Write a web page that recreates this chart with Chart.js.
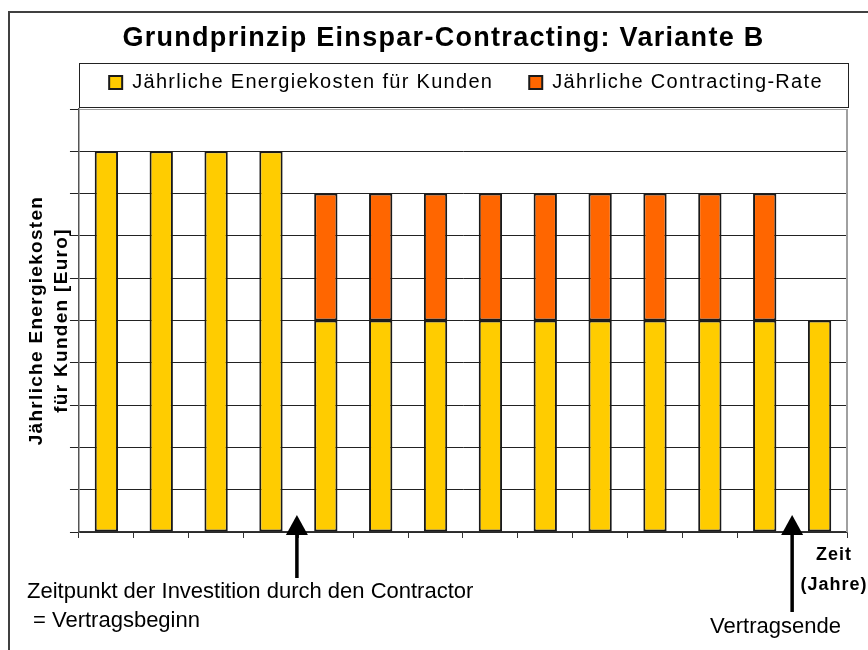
<!DOCTYPE html>
<html>
<head>
<meta charset="utf-8">
<script src="https://cdn.jsdelivr.net/npm/chart.js"></script>
<style>
  body { margin: 0; background: #fff; }
  canvas { display: block; }
</style>
</head>
<body>
<canvas id="myChart" width="868" height="650"></canvas>
<script>
  // years of the contract period, values in relative cost units (no y labels in the original)
  const years = ['1', '2', '3', '4', '5', '6', '7', '8', '9', '10', '11', '12', '13', '14'];
  const energyCost = [9, 9, 9, 9, 5, 5, 5, 5, 5, 5, 5, 5, 5, 5];
  const contractingRate = [null, null, null, null, 3, 3, 3, 3, 3, 3, 3, 3, 3, null];
  const yMax = 10;

  Chart.defaults.font.family = "'Liberation Sans', Arial, sans-serif";
  Chart.defaults.color = '#000';

  // the Excel texts are drawn a bit wider than the font, so some letter spacing
  const spacing = '1.3px';

  const extras = {
    id: 'extras',
    beforeUpdate(chart) { chart.ctx.letterSpacing = spacing; },
    afterLayout(chart) {
      chart.titleBlock.left = 20;
      chart.titleBlock.right = 867;
      const lg = chart.legend;
      const h = lg.height;
      lg.left = 71;
      lg.right = 861;
      lg.top = 36.5;
      lg.bottom = 36.5 + h;
    },
    beforeDraw(chart) { chart.ctx.letterSpacing = spacing; },
    afterDraw(chart) {
      const c = chart.ctx;
      const a = chart.chartArea;
      const x = chart.scales.x;
      c.save();
      c.letterSpacing = '0px';

      // outer frame (runs past right/bottom edge)
      c.strokeStyle = '#404040';
      c.lineWidth = 2;
      c.strokeRect(9, 12, 900, 700);

      // legend box
      c.strokeStyle = '#222';
      c.lineWidth = 1;
      c.strokeRect(79.5, 63.5, 769, 44);

      // right border of plot area
      c.strokeStyle = '#a0a0a0';
      c.lineWidth = 2;
      c.beginPath();
      c.moveTo(a.right, a.top);
      c.lineTo(a.right, a.bottom);
      c.stroke();

      // arrows between the years
      const arrow = (px, yEnd) => {
        c.fillStyle = '#000';
        c.beginPath();
        c.moveTo(px, a.bottom - 17);
        c.lineTo(px + 11, a.bottom + 3);
        c.lineTo(px - 11, a.bottom + 3);
        c.closePath();
        c.fill();
        c.fillRect(px - 1.75, a.bottom + 2, 3.5, yEnd - a.bottom - 2);
      };
      arrow(x.getPixelForValue(3.5) - 1.5, 578);
      arrow(x.getPixelForValue(12.5), 612);

      c.fillStyle = '#000';
      c.textBaseline = 'alphabetic';
      c.textAlign = 'left';
      c.font = "22px 'Liberation Sans', Arial, sans-serif";
      c.fillText('Zeitpunkt der Investition durch den Contractor', 27, 598);
      c.fillText('= Vertragsbeginn', 33, 627);
      c.fillText('Vertragsende', 710, 633);

      c.textAlign = 'center';
      c.letterSpacing = '1px';
      c.font = "bold 18px 'Liberation Sans', Arial, sans-serif";
      c.fillText('Zeit', 834, 560);
      c.fillText('(Jahre)', 834, 590);
      c.restore();
    }
  };

  const ctx = document.getElementById('myChart');
  new Chart(ctx, {
    type: 'bar',
    data: {
      labels: years,
      datasets: [{
        label: 'Jährliche Energiekosten für Kunden',
        data: energyCost,
        backgroundColor: '#FFCC00'
      }, {
        label: 'Jährliche Contracting-Rate',
        data: contractingRate,
        backgroundColor: '#FF6600'
      }]
    },
    options: {
      responsive: false,
      animation: false,
      layout: {
        padding: { left: 0, right: 21, top: 12, bottom: 112 }
      },
      datasets: {
        bar: {
          borderColor: '#1a1a1a',
          borderWidth: 2,
          borderSkipped: false,
          barPercentage: 0.425,
          categoryPercentage: 1
        }
      },
      plugins: {
        title: {
          display: true,
          text: 'Grundprinzip Einspar-Contracting: Variante B',
          color: '#000',
          font: { size: 27, weight: 'bold' },
          padding: { top: 10.1, bottom: -11.5 }
        },
        legend: {
          labels: {
            color: '#000',
            font: { size: 20 },
            boxWidth: 13,
            boxHeight: 13,
            padding: 36
          }
        },
        tooltip: { enabled: false }
      },
      scales: {
        x: {
          stacked: true,
          ticks: { display: false },
          grid: { drawOnChartArea: false, tickLength: 6, color: '#333' },
          border: { color: '#333', width: 1.5 }
        },
        y: {
          stacked: true,
          min: 0,
          max: yMax,
          ticks: { display: false, stepSize: 1 },
          grid: {
            color: (c) => c.tick && c.tick.value === yMax ? '#a0a0a0' : '#222',
            tickColor: '#222',
            tickLength: 9
          },
          border: { color: '#555', width: 1.5 },
          title: {
            display: true,
            text: ['Jährliche Energiekosten', 'für Kunden [Euro]'],
            color: '#000',
            font: { size: 19, weight: 'bold', lineHeight: 1.32 },
            padding: { top: 24.45, bottom: -4.65 }
          }
        }
      }
    },
    plugins: [extras]
  });
</script>
</body>
</html>
